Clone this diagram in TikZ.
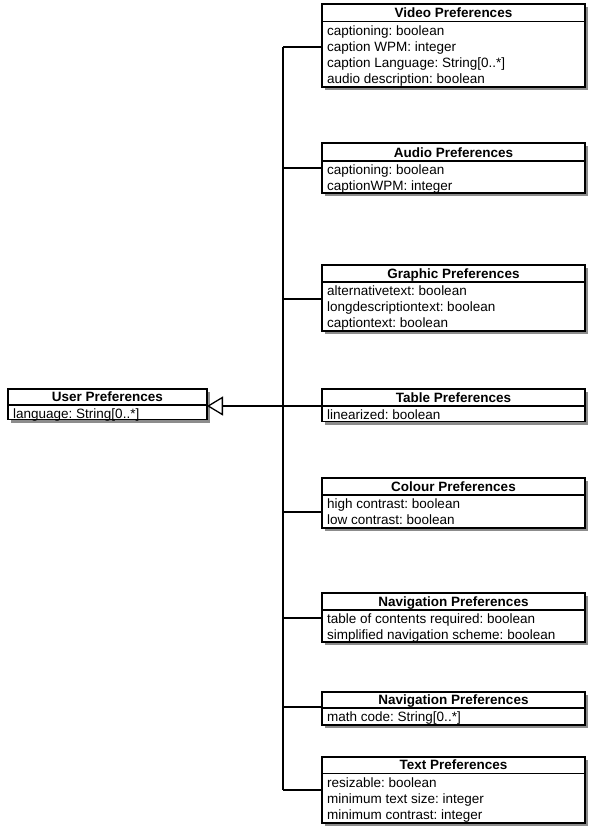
\documentclass[tikz,border=0pt]{standalone}
\usepackage{fontspec}
\setmainfont{Liberation Sans}
\frenchspacing
\usetikzlibrary{arrows.meta,calc}
\tikzset{
  boxline/.style={draw=black, line width=1.2pt},
  shadowbox/.style={fill=black!45, draw=none},
  titletext/.style={font=\fontsize{13.5}{16}\selectfont\bfseries, inner sep=0pt, anchor=base},
  attrtext/.style={font=\fontsize{13.5}{16}\selectfont\frenchspacing, inner sep=0pt, anchor=base west},
  conn/.style={draw=black, line width=1.6pt},
  gen/.style={conn, -{Triangle[open, length=16pt, width=19pt, line width=1.3pt]}},
}
% name, left, right, top, sep, bottom, title, lines
\newcommand\umlclass[8]{%
  \fill[shadowbox] (#2+3,#4+3) rectangle (#3+3,#6+3);
  \node[boxline, fill=white, inner sep=0pt, outer sep=0pt, anchor=north west,
        minimum width={(#3-#2)*1pt}, minimum height={(#6-#4)*1pt}] (#1) at (#2,#4) {};
  \draw[boxline] ($(#1.north west)+(0,#5-#4)$) -- ($(#1.north east)+(0,#5-#4)$);
  \node[titletext] (#1-title) at ({(#2+#3)/2},#5-4) {#7};
  \foreach \t [count=\i] in {#8} {
    \node[attrtext] (#1-a\i) at (#2+5,{#5+13.5+16*(\i-1)}) {\t};
  }
}
\begin{document}
\begin{tikzpicture}[x=1pt,y=-1pt]
\useasboundingbox (0,0) rectangle (590,827);
\fill[white] (0,0) rectangle (590,827);

\umlclass{video}{322}{585}{4}{21.5}{87}{Video Preferences}{{captioning: boolean},{caption WPM: integer},{caption Language: String[0..*]},{audio description: boolean}}
\umlclass{audio}{322}{585}{143}{161}{193}{Audio Preferences}{{captioning: boolean},{captionWPM: integer}}
\umlclass{graphic}{322}{585}{265}{282}{331}{Graphic Preferences}{{alternativetext: boolean},{longdescriptiontext: boolean},{captiontext: boolean}}
\umlclass{table}{322}{585}{389}{406}{421.5}{Table Preferences}{{linearized: boolean}}
\umlclass{user}{8}{207}{389}{405}{419.5}{User Preferences}{{language: String[0..*]}}
\umlclass{colour}{322}{585}{478}{495}{528}{Colour Preferences}{{high contrast: boolean},{low contrast: boolean}}
\umlclass{navone}{322}{585}{593}{610}{642}{Navigation Preferences}{{table of contents required: boolean},{simplified navigation scheme: boolean}}
\umlclass{navtwo}{322}{585}{692}{708}{725}{Navigation Preferences}{{math code: String[0..*]}}
\umlclass{text}{322}{585}{757}{773.5}{823}{Text Preferences}{{resizable: boolean},{minimum text size: integer},{minimum contrast: integer}}

\coordinate (trunkx) at (283,0);
\coordinate (video-c) at ($(video.north west)+(0,43)$);
\coordinate (audio-c) at ($(audio.north west)+(0,25)$);
\coordinate (graphic-c) at ($(graphic.north west)+(0,34)$);
\coordinate (table-c) at ($(table.north west)+(0,17)$);
\coordinate (colour-c) at ($(colour.north west)+(0,34)$);
\coordinate (navone-c) at ($(navone.north west)+(0,25)$);
\coordinate (navtwo-c) at ($(navtwo.north west)+(0,15)$);
\coordinate (text-c) at ($(text.north west)+(0,33)$);

\draw[conn] (video-c -| trunkx) -- (text-c -| trunkx);
\foreach \n in {video,audio,graphic,colour,navone,navtwo,text}
  \draw[conn] (\n-c) -- (\n-c -| trunkx);
\draw[gen] (table-c) -- (user.east |- table-c);
\end{tikzpicture}
\end{document}
